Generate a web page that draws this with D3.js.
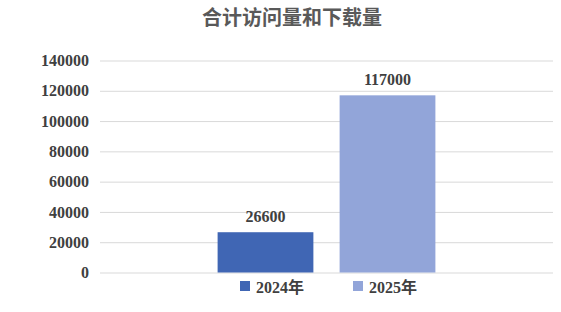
<!DOCTYPE html>
<html>
<head>
<meta charset="utf-8">
<script src="https://cdn.jsdelivr.net/npm/d3@7"></script>
<style>
  body { margin: 0; background: #fff; }
</style>
</head>
<body>
<div id="chart"></div>
<script>
const categories = ['合计']
const seriesNames = ['2024年', '2025年']
const seriesValues = [26600, 117000]
const yTicks = [0, 20000, 40000, 60000, 80000, 100000, 120000, 140000]
const colors = ['#4066B4', '#92A5D9']

const width = 561
const height = 312
const margin = { top: 61, right: 8, bottom: 40, left: 100 }

const svg = d3.select('#chart')
  .append('svg')
  .attr('width', width)
  .attr('height', height)

/*********** Scales ***********/
const yScale = d3.scaleLinear()
  .domain([0, 140000])
  .range([height - margin.bottom + 0.5, margin.top - 0.5])

const x0 = d3.scaleBand()
  .domain(categories)
  .range([margin.left, width - margin.right])
  .paddingOuter(0.54)

const x1 = d3.scaleBand()
  .domain(seriesNames)
  .range([0, x0.bandwidth()])
  .paddingInner(0.215)
  .paddingOuter(0)

const color = d3.scaleOrdinal().domain(seriesNames).range(colors)

/*********** Grid + y axis ***********/
const yAxis = svg.append('g')
  .attr('class', 'y axis')
  .attr('transform', 'translate(' + margin.left + ',0)')
  .call(d3.axisLeft(yScale)
    .tickValues(yTicks)
    .tickSize(-(width - margin.left - margin.right))
    .tickPadding(11)
    .tickFormat(d => String(d)))

yAxis.select('.domain').remove()
yAxis.selectAll('.tick line')
  .attr('stroke', '#D9D9D9')
  .attr('stroke-width', 1)
yAxis.selectAll('.tick text')
  .attr('fill', '#404040')
  .attr('font-family', 'Liberation Serif, serif')
  .attr('font-weight', 'bold')
  .attr('font-size', 16)

/*********** Bars ***********/
const data = seriesNames.map((name, i) => ({ name: name, value: seriesValues[i] }))

const group = svg.append('g')
  .attr('transform', 'translate(' + x0(categories[0]) + ',0)')

group.selectAll('rect')
  .data(data)
  .enter()
  .append('rect')
  .attr('x', d => x1(d.name))
  .attr('y', d => yScale(d.value))
  .attr('width', x1.bandwidth())
  .attr('height', d => yScale(0) - yScale(d.value))
  .attr('fill', d => color(d.name))

group.selectAll('.label')
  .data(data)
  .enter()
  .append('text')
  .attr('class', 'label')
  .attr('x', d => x1(d.name) + x1.bandwidth() / 2)
  .attr('y', d => yScale(d.value) - 10)
  .attr('text-anchor', 'middle')
  .attr('fill', '#404040')
  .attr('font-family', 'Liberation Serif, serif')
  .attr('font-weight', 'bold')
  .attr('font-size', 16)
  .text(d => d.value)

/*********** Title ***********/
svg.append('text')
  .text('合计访问量和下载量')
  .attr('x', 292)
  .attr('y', 25)
  .attr('text-anchor', 'middle')
  .attr('fill', '#595959')
  .attr('font-family', 'Noto Sans CJK SC, sans-serif')
  .attr('font-weight', 'bold')
  .attr('font-size', 20)

/*********** Legend ***********/
const legendX = [240, 353]
const legend = svg.append('g').attr('class', 'legend')

const items = legend.selectAll('g')
  .data(seriesNames)
  .enter()
  .append('g')
  .attr('transform', (d, i) => 'translate(' + legendX[i] + ',' + 281 + ')')

items.append('rect')
  .attr('width', 10)
  .attr('height', 10)
  .attr('fill', d => color(d))

items.append('text')
  .attr('x', 16)
  .attr('y', 11.5)
  .attr('fill', '#404040')
  .attr('font-family', 'Liberation Serif, Noto Sans CJK SC, serif')
  .attr('font-weight', 'bold')
  .attr('font-size', 16)
  .text(d => d)
</script>
</body>
</html>
